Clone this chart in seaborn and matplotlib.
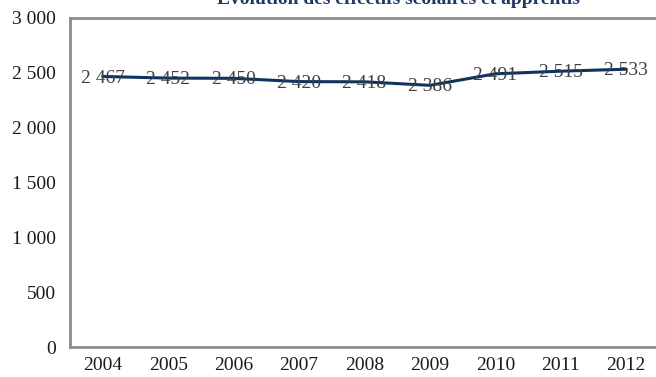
import matplotlib
matplotlib.use("Agg")
import matplotlib.pyplot as plt
import seaborn as sns
import pandas as pd

years = ["2004", "2005", "2006", "2007", "2008", "2009", "2010", "2011", "2012"]
effectifs = [2467, 2452, 2450, 2420, 2418, 2386, 2491, 2515, 2533]
yticks = [0, 500, 1000, 1500, 2000, 2500, 3000]
title = "Évolution des effectifs scolaires et apprentis"

def fmt(v):
    return f"{v:,}".replace(",", " ")

sns.set_theme(style="white")
plt.rcParams["font.family"] = ["Liberation Serif", "DejaVu Serif"]

df = pd.DataFrame({"annee": years, "effectif": effectifs})

fig = plt.figure(figsize=(6.56, 3.77), dpi=100)
ax = fig.add_axes([70 / 656, 30 / 377, 589 / 656, 329 / 377])

sns.lineplot(data=df, x="annee", y="effectif", ax=ax, color="#0d3361",
             linewidth=2.2, sort=False)
ax.set_xlim(-0.5, len(years) - 0.5)
ax.set_ylim(0, 3000)
ax.set_yticks(yticks)
ax.set_yticklabels([fmt(v) for v in yticks])
ax.set_xlabel("")
ax.set_ylabel("")
ax.tick_params(axis="both", length=0, labelsize=14, colors="#1a1a1a")
ax.tick_params(axis="y", pad=10)
ax.tick_params(axis="x", pad=7)

for i, v in enumerate(effectifs):
    ax.text(i, v - 15, fmt(v), ha="center", va="center", fontsize=14, color="#404040")

for side in ["left", "top", "bottom"]:
    ax.spines[side].set_color("#8c8c8c")
    ax.spines[side].set_linewidth(2)
ax.spines["right"].set_visible(False)

fig.text(398 / 656, 1 - 4 / 377, title, ha="center", va="baseline",
         fontsize=14, fontweight="bold", color="#1f3864")

fig.savefig("out.png", dpi=100)
